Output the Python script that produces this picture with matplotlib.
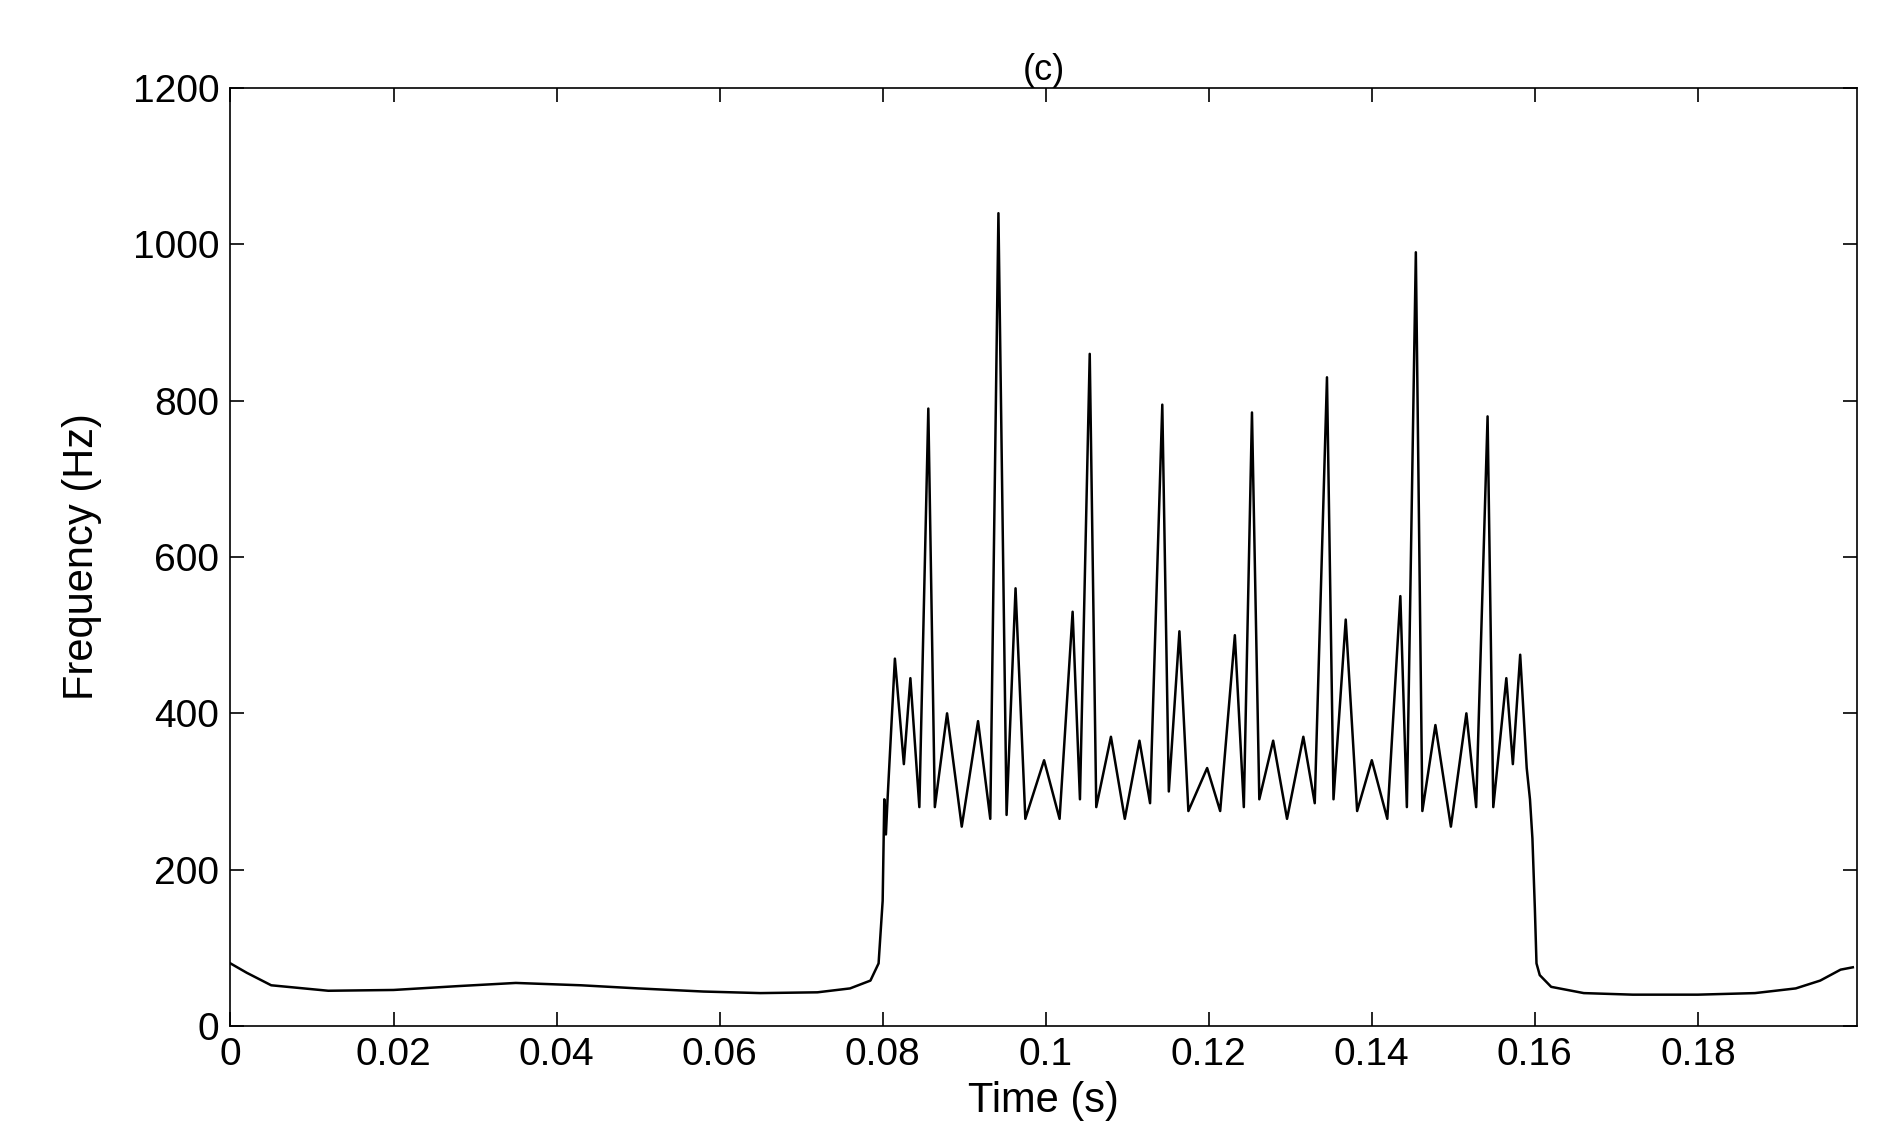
import matplotlib
matplotlib.use("Agg")
import matplotlib.pyplot as plt

time_s = [0.0, 0.002, 0.005, 0.012, 0.02, 0.028, 0.035, 0.043, 0.05, 0.058, 0.065, 0.072, 0.076, 0.0785, 0.0795,
          0.0800, 0.0802, 0.0804, 0.0806,
          0.0815, 0.0826, 0.0834, 0.0845, 0.0856, 0.0864, 0.0879, 0.0897, 0.0917, 0.0932, 0.0942, 0.0952,
          0.0963, 0.0975, 0.0998, 0.1017, 0.1033, 0.1042, 0.1054, 0.1062, 0.1080, 0.1097, 0.1115, 0.1128,
          0.1143, 0.1151, 0.1164, 0.1175, 0.1198, 0.1214, 0.1232, 0.1243, 0.1253, 0.1262, 0.1279, 0.1296,
          0.1316, 0.1330, 0.1345, 0.1353, 0.1368, 0.1382, 0.1400, 0.1419, 0.1435, 0.1443, 0.1454, 0.1462,
          0.1478, 0.1497, 0.1516, 0.1528, 0.1542, 0.1549, 0.1565, 0.1573, 0.1582, 0.1590, 0.1594, 0.1597,
          0.1600, 0.1602, 0.1606, 0.162, 0.166, 0.172, 0.18, 0.187, 0.192, 0.195, 0.1975, 0.199]
freq_hz = [80, 68, 52, 45, 46, 51, 55, 52, 48, 44, 42, 43, 48, 58, 80,
           160, 290, 245, 290,
           470, 335, 445, 280, 790, 280, 400, 255, 390, 265, 1040, 270,
           560, 265, 340, 265, 530, 290, 860, 280, 370, 265, 365, 285,
           795, 300, 505, 275, 330, 275, 500, 280, 785, 290, 365, 265,
           370, 285, 830, 290, 520, 275, 340, 265, 550, 280, 990, 275,
           385, 255, 400, 280, 780, 280, 445, 335, 475, 330, 290, 240,
           150, 80, 65, 50, 42, 40, 40, 42, 48, 58, 72, 75]

plt.rcParams['font.family'] = ['Liberation Sans', 'DejaVu Sans']
fig = plt.figure(figsize=(18.89, 11.45), dpi=100)
ax = fig.add_axes([0.122, 0.104, 0.861, 0.819])
ax.plot(time_s, freq_hz, color='black', lw=1.8)
ax.set_xlim(0, 0.1995)
ax.set_ylim(0, 1200)
ax.set_xticks([0, 0.02, 0.04, 0.06, 0.08, 0.1, 0.12, 0.14, 0.16, 0.18])
ax.set_xticklabels(['0', '0.02', '0.04', '0.06', '0.08', '0.1', '0.12', '0.14', '0.16', '0.18'])
ax.set_yticks(range(0, 1201, 200))
ax.tick_params(direction='in', labelsize=28, length=10, width=1.2, top=True, right=True, pad=8)
for s in ax.spines.values():
    s.set_linewidth(1.2)
ax.set_xlabel('Time (s)', fontsize=30, labelpad=6)
ax.set_ylabel('Frequency (Hz)', fontsize=30, labelpad=22)
ax.set_title('(c)', fontsize=26, pad=6)
fig.savefig('out.png', dpi=100)
